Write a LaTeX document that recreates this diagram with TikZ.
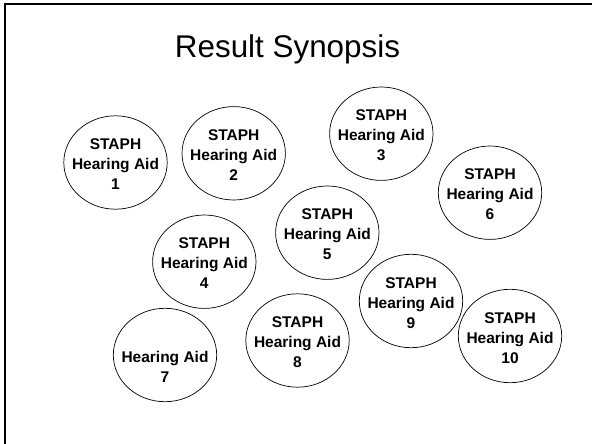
\documentclass[tikz,border=0pt]{standalone}
\usepackage{fontspec}
\setmainfont{Liberation Sans}
\usetikzlibrary{shapes.geometric}
\begin{document}
\begin{tikzpicture}[x=1pt,y=-1pt,
  aid/.style={ellipse, draw=black, line width=0.7pt,
    minimum width=103.4pt, minimum height=93.4pt,
    inner xsep=-7.5pt, inner ysep=0pt,
    align=center, font=\fontsize{15.5}{20}\selectfont\bfseries},
  heading/.style={anchor=base, font=\fontsize{31.4}{36}\selectfont}]
\useasboundingbox (0,0) rectangle (592,444);
% slide frame (left and top edges)
\draw[line width=2pt] (5,444) -- (5,4) -- (592,4);
\node[heading] (title) at (287.5,58) {Result Synopsis};
% hearing aid results
\newcommand{\firstline}[1]{\rule{0pt}{14.5pt}#1}
\node[aid] (a1)  at (115.5,162.5) {\firstline{STAPH}\\Hearing Aid\\1};
\node[aid] (a2)  at (233.7,153.3) {\firstline{STAPH}\\Hearing Aid\\2};
\node[aid] (a3)  at (381.3,133.7) {\firstline{STAPH}\\Hearing Aid\\3};
\node[aid] (a4)  at (204.3,261.7) {\firstline{STAPH}\\Hearing Aid\\4};
\node[aid] (a5)  at (327.3,232.7) {\firstline{STAPH}\\Hearing Aid\\5};
\node[aid] (a6)  at (490.0,192.7) {\firstline{STAPH}\\Hearing Aid\\6};
\node[aid] (a7)  at (165.0,355.0) {\firstline{\phantom{STAPH}}\\Hearing Aid\\7};
\node[aid] (a8)  at (297.5,340.5) {\firstline{STAPH}\\Hearing Aid\\8};
\node[aid] (a9)  at (411.0,301.0) {\firstline{STAPH}\\Hearing Aid\\9};
\node[aid] (a10) at (510.0,336.0) {\firstline{STAPH}\\Hearing Aid\\10};
\end{tikzpicture}
\end{document}
